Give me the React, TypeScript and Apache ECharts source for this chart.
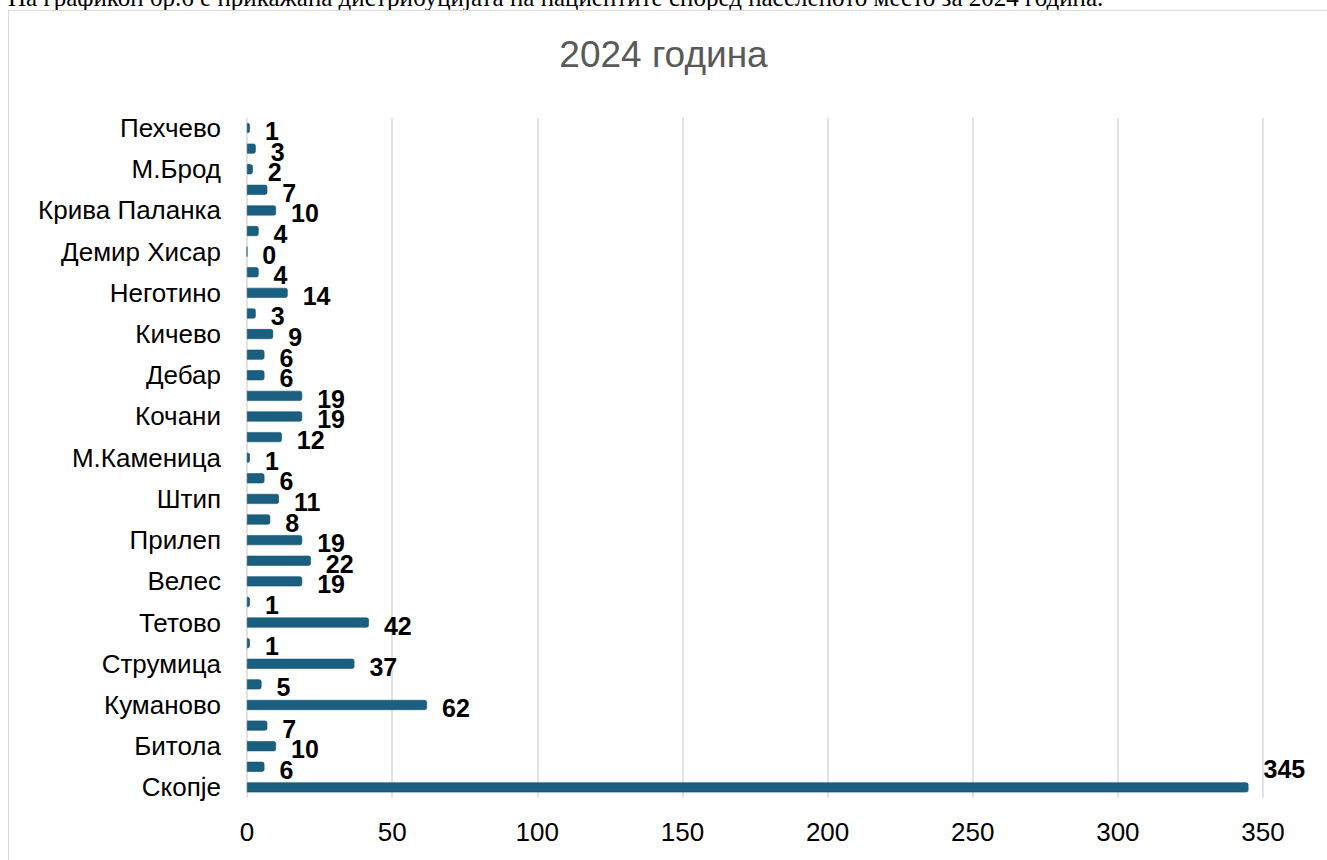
import React, { useEffect, useRef } from "react";
import * as echarts from "echarts";

// Categories listed from the bottom (Скопје) to the top (Пехчево)
const categories: string[] = [
  "Скопје", "Охрид", "Битола", "Гостивар", "Куманово", "Кавадарци", "Струмица", "Струга",
  "Тетово", "Гевгелија", "Велес", "Кратово", "Прилеп", "Радовиш", "Штип", "Свети Николе",
  "М.Каменица", "Делчево", "Кочани", "Виница", "Дебар", "Ресен", "Кичево", "Берово",
  "Неготино", "Валандово", "Демир Хисар", "Пробиштип", "Крива Паланка", "Демир Капија",
  "М.Брод", "Крушево", "Пехчево",
];

const values: number[] = [
  345, 6, 10, 7, 62, 5, 37, 1, 42, 1, 19, 22, 19, 8, 11, 6, 1, 12, 19, 19, 6, 6, 9, 3, 14, 4,
  0, 4, 10, 7, 2, 3, 1,
];

const xTicks: number[] = [0, 50, 100, 150, 200, 250, 300, 350];

const titleText = "2024 година";
const captionText =
  "На графикон бр.6 е прикажана дистрибуцијата на пациентите според населеното место за 2024 година.";

export default function App() {
  const ref = useRef<HTMLDivElement>(null);

  useEffect(() => {
    if (!ref.current) return;
    const chart = echarts.init(ref.current, null, { renderer: "svg" });
    const maxV = Math.max(...values);
    chart.setOption({
      animation: false,
      title: {
        text: titleText,
        left: "center",
        top: 31,
        textStyle: {
          fontFamily: "Liberation Sans, Arial, sans-serif",
          fontSize: 37,
          fontWeight: "normal",
          color: "#595959",
        },
      },
      grid: { left: 247, right: 64, top: 117.7, bottom: 62.3, containLabel: false },
      xAxis: {
        type: "value",
        min: xTicks[0],
        max: xTicks[xTicks.length - 1],
        interval: xTicks[1] - xTicks[0],
        axisLine: { show: false },
        axisTick: { show: false },
        axisLabel: {
          margin: 21,
          fontSize: 26,
          color: "#000",
          fontFamily: "Liberation Sans, Arial, sans-serif",
        },
        splitLine: { show: true, lineStyle: { color: "#d9d9d9", width: 1.5 } },
      },
      yAxis: {
        type: "category",
        data: categories,
        axisLine: { show: false },
        axisTick: { show: false },
        axisLabel: {
          interval: 1,
          margin: 26,
          fontSize: 26,
          color: "#000",
          fontFamily: "Liberation Sans, Arial, sans-serif",
        },
      },
      series: [
        {
          type: "bar",
          barWidth: 10,
          data: values.map((v) =>
            v === maxV
              ? { value: v, label: { offset: [0, -18] } }
              : { value: v }
          ),
          itemStyle: {
            color: "#1a5f7f",
            borderColor: "#14506c",
            borderWidth: 0.6,
            borderRadius: [0, 2, 2, 0],
          },
          label: {
            show: true,
            position: "right",
            distance: 15,
            offset: [0, 3],
            fontSize: 25,
            fontWeight: "bold",
            color: "#000",
            fontFamily: "Liberation Sans, Arial, sans-serif",
          },
        },
      ],
    });
    return () => chart.dispose();
  }, []);

  return (
    <div
      style={{
        position: "fixed",
        left: 0,
        top: 0,
        width: 1327,
        height: 860,
        overflow: "hidden",
        background: "#fff",
      }}
    >
      <div
        style={{
          position: "absolute",
          left: 8,
          top: -16,
          whiteSpace: "nowrap",
          fontFamily: "Liberation Serif, 'Times New Roman', serif",
          fontSize: 25,
          color: "#000",
        }}
      >
        {captionText}
      </div>
      <div
        style={{
          position: "absolute",
          left: 8,
          top: 10,
          width: 1340,
          height: 880,
          border: "1px solid #d9d9d9",
          boxSizing: "border-box",
        }}
      />
      <div
        ref={ref}
        style={{ position: "absolute", left: 0, top: 0, width: 1327, height: 860 }}
      />
    </div>
  );
}
